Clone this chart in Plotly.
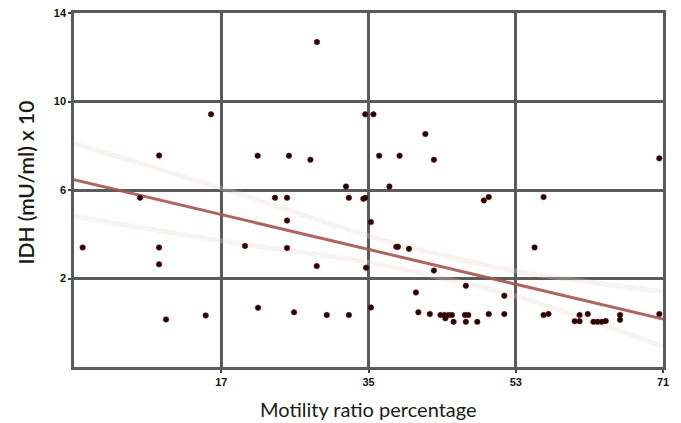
import plotly.graph_objects as go

# Scatter data (motility ratio %, IDH x10)
motility = [28.7, 15.75, 9.4, 21.45, 25.28, 27.9, 34.6, 35.6, 36.3, 32.25, 41.95, 38.8, 43.0, 70.55, 37.55,
            7.07, 23.57, 25.04, 32.6, 34.37, 34.6, 35.3, 25.04, 0.06, 9.4, 9.4, 19.9, 25.04, 28.67, 34.7,
            21.5, 25.9, 29.9, 32.6, 35.3, 10.25, 15.1,
            49.1, 49.7, 56.4, 38.4, 38.6, 39.95, 55.3, 43.0, 46.9, 40.8, 51.6,
            41.1, 42.5, 43.8, 44.3, 44.8, 45.2, 44.4, 45.4, 46.8, 47.2, 46.9, 48.3, 49.7, 51.6, 56.4, 57.0,
            60.2, 60.8, 60.8, 61.8, 62.5, 63.0, 63.5, 64.0, 65.75, 65.75, 70.55]
idh = [12.69, 9.42, 7.56, 7.55, 7.55, 7.37, 9.42, 9.42, 7.55, 6.16, 8.53, 7.55, 7.37, 7.43, 6.16,
       5.65, 5.65, 5.65, 5.65, 5.6, 5.65, 4.55, 4.62, 3.4, 3.4, 2.64, 3.47, 3.38, 2.56, 2.49,
       0.68, 0.47, 0.35, 0.35, 0.69, 0.15, 0.33,
       5.53, 5.68, 5.68, 3.43, 3.43, 3.34, 3.4, 2.36, 1.67, 1.37, 1.22,
       0.47, 0.39, 0.35, 0.35, 0.35, 0.35, 0.2, 0.04, 0.35, 0.35, 0.04, 0.04, 0.39, 0.39, 0.35, 0.4,
       0.07, 0.07, 0.35, 0.39, 0.04, 0.04, 0.04, 0.08, 0.35, 0.13, 0.39]

# Fit line and confidence band
fit_x = [-1, 17, 35, 44, 53, 71]
fit_y = [6.46, 4.88, 3.31, 2.54, 1.75, 0.17]
band_upper = [8.11, 6.08, 3.93, 3.06, 2.34, 1.41]
band_lower = [4.81, 3.70, 2.73, 2.02, 1.20, -1.07]

x_ticks = [17, 35, 53, 71]
y_ticks = [2, 6, 10, 14]
x_title = "Motility ratio percentage"
y_title = "IDH (mU/ml) x 10"

fig = go.Figure()
band_style = dict(color="rgba(236,212,212,0.3)", width=5, shape="spline")
fig.add_trace(go.Scatter(x=fit_x, y=band_upper, mode="lines", line=band_style, hoverinfo="skip"))
fig.add_trace(go.Scatter(x=fit_x, y=band_lower, mode="lines", line=band_style, hoverinfo="skip"))
fig.add_trace(go.Scatter(x=fit_x, y=fit_y, mode="lines",
                         line=dict(color="rgba(165,85,82,0.9)", width=3)))
fig.add_trace(go.Scatter(x=motility, y=idh, mode="markers",
                         marker=dict(size=5.5, color="#220202", line=dict(color="#6a1010", width=0.6))))

axis_common = dict(showgrid=True, gridcolor="#5a5a5a", gridwidth=2.5, zeroline=False,
                   showline=True, linecolor="#5a5a5a", linewidth=2.5, mirror=True,
                   ticks="outside", ticklen=3, tickcolor="#444", tickwidth=1.5, automargin=False,
                   tickfont=dict(family="Liberation Sans Narrow, Arial Narrow, sans-serif", size=11,
                                 color="#111", weight="bold"))

fig.update_xaxes(range=[-1, 71], tickvals=x_ticks, ticktext=[str(v) for v in x_ticks], **axis_common)
fig.update_yaxes(range=[-2, 14], tickvals=y_ticks, ticktext=[str(v) for v in y_ticks], **axis_common)

fig.add_annotation(text=x_title, xref="paper", yref="paper", x=0.5, y=-0.12,
                   xanchor="center", yanchor="middle", showarrow=False,
                   font=dict(family="Lato, sans-serif", size=20, color="#1a1a1a"))
fig.add_annotation(text=y_title, xref="paper", yref="paper", x=-0.082, y=0.52, textangle=-90,
                   xanchor="center", yanchor="middle", showarrow=False,
                   font=dict(family="Lato, sans-serif", size=21, color="#1a1a1a", weight=600))

fig.update_layout(width=681, height=423, showlegend=False,
                  margin=dict(l=74, r=18, t=13, b=56),
                  plot_bgcolor="white", paper_bgcolor="white")

fig.write_html("out.html", config={"displayModeBar": False},
               post_script="document.body.style.margin='0';document.body.style.overflow='hidden';")
